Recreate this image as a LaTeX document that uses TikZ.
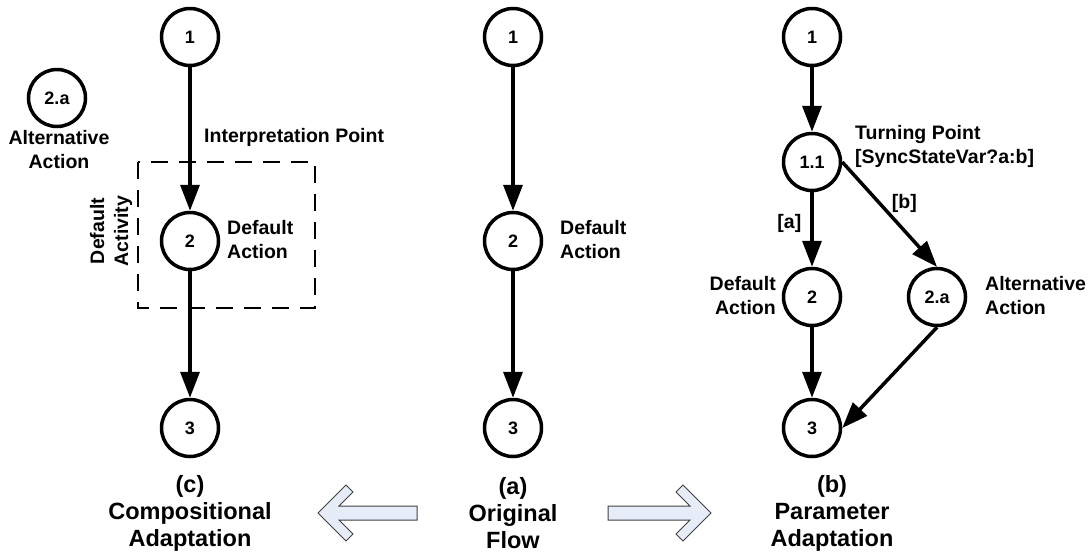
\documentclass[tikz,border=0pt]{standalone}
\usepackage{fontspec}
\setmainfont{Liberation Sans}
\usetikzlibrary{arrows.meta}
\definecolor{arrowfill}{HTML}{E6EDF8}
\definecolor{arrowline}{HTML}{404040}
\newcommand{\nodefont}{\fontsize{18}{20}\selectfont\bfseries}
\newcommand{\labfont}{\fontsize{19.5}{24}\selectfont\bfseries}
\newcommand{\capfont}{\fontsize{23.5}{27}\selectfont\bfseries}
\begin{document}
\begin{tikzpicture}[x=1pt,y=-1pt,
  state/.style={circle,draw,line width=3.5pt,minimum size=57pt,inner sep=0pt,font=\nodefont},
  flow/.style={line width=3.5pt,-{Triangle[length=26pt,width=19pt]}},
  lab/.style={font=\labfont,inner sep=0pt},
  captext/.style={font=\capfont,align=center,inner sep=0pt},
  hollow/.style={fill=arrowfill,draw=arrowline,line width=1pt,line join=miter},
  dashbox/.style={line width=2pt,dash pattern=on 17pt off 11pt}]
\useasboundingbox (0,0) rectangle (1091,555);

% ---------- (c) Compositional Adaptation ----------
\draw[dashbox] (138,162) rectangle (315,308);
\node[state] (c1) at (190,37) {1};
\node[state] (c2) at (190,241) {2};
\node[state] (c3) at (190,428) {3};
\node[state] (c2a) at (57,98) {2.a};
\node[lab,align=center] (c2alab) at (59,150) {Alternative\\Action};
\node[lab,anchor=west] (cip) at (204,137) {Interpretation Point};
\node[lab,align=left,anchor=west] (cdef) at (227,240) {Default\\Action};
\node[lab,align=center,rotate=90] (cact) at (111,231) {Default\\Activity};
\draw[flow] (c1) -- (c2);
\draw[flow] (c2) -- (c3);
\node[captext] (ccap) at (190,513) {(c)\\Compositional\\Adaptation};

% ---------- (a) Original Flow ----------
\node[state] (a1) at (513,37) {1};
\node[state] (a2) at (513,241) {2};
\node[state] (a3) at (513,428) {3};
\node[lab,align=left,anchor=west] (adef) at (560,240) {Default\\Action};
\draw[flow] (a1) -- (a2);
\draw[flow] (a2) -- (a3);
\node[captext] (acap) at (513,513) {(a)\\Original\\Flow};

% ---------- (b) Parameter Adaptation ----------
\node[state] (b1) at (812,37) {1};
\node[state] (b11) at (812,162) {1.1};
\node[state] (b2) at (812,297) {2};
\node[state] (b2a) at (937,297) {2.a};
\node[state] (b3) at (812,428) {3};
\node[lab,align=left,anchor=west] (btp) at (855,146) {Turning Point\\{[SyncStateVar?a:b]}};
\node[lab,align=right,anchor=east] (bdef) at (776,296) {Default\\Action};
\node[lab,align=left,anchor=west] (balt) at (985,296) {Alternative\\Action};
\draw[flow] (b1) -- (b11);
\draw[flow] (b11) -- (b2) node[lab,pos=0.42,left=9pt] (la) {[a]};
\draw[flow] (b11.east) -- (b2a.north) node[lab,pos=0.4,right=10pt] (lb) {[b]};
\draw[flow] (b2) -- (b3);
\draw[flow] (b2a.south) -- (b3.east);
\node[captext] (bcap) at (832,513) {(b)\\Parameter\\Adaptation};

% ---------- hollow transition arrows ----------
\draw[hollow] (417,506) -- (339,506) -- (353,492) -- (346,485) -- (318,513)
  -- (346,541) -- (353,534) -- (339,520) -- (417,520) -- cycle;
\draw[hollow] (608,506) -- (690,506) -- (676,492) -- (683,485) -- (711,513)
  -- (683,541) -- (676,534) -- (690,520) -- (608,520) -- cycle;
\end{tikzpicture}
\end{document}
